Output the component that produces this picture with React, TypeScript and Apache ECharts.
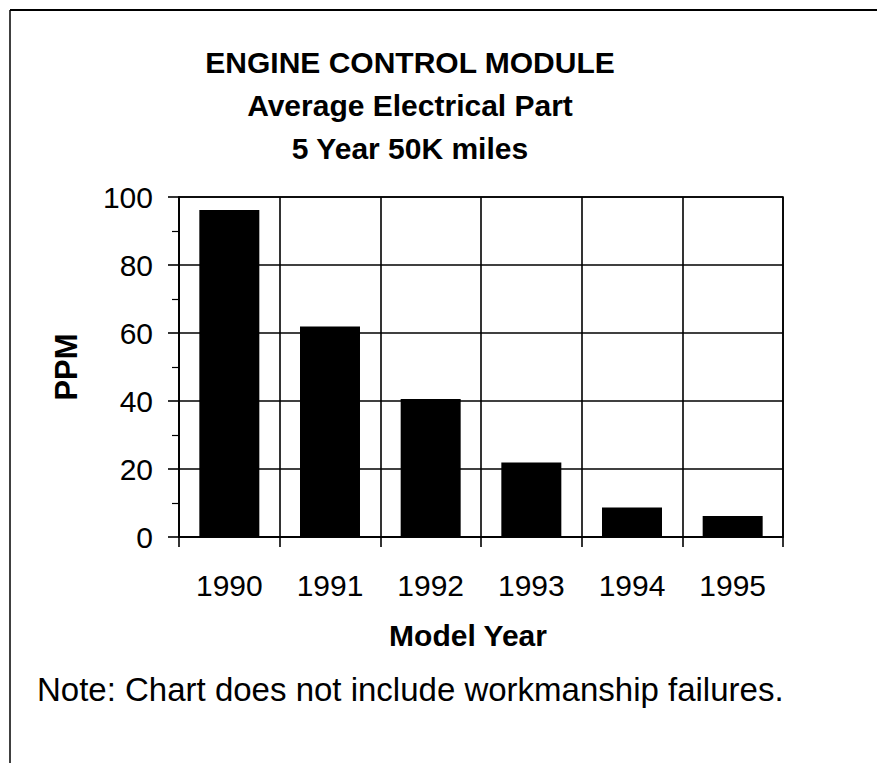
import React, { useEffect, useRef } from "react";
import * as echarts from "echarts";

const categories = ["1990", "1991", "1992", "1993", "1994", "1995"];
const ppmValues = [96.2, 61.9, 40.6, 21.9, 8.7, 6.2];
const titleLines = ["ENGINE CONTROL MODULE", "Average Electrical Part", "5 Year 50K miles"];
const yAxisName = "PPM";
const xAxisName = "Model Year";
const noteText = "Note: Chart does not include workmanship failures.";

const FONT = "'Liberation Sans', Arial, Helvetica, sans-serif";

export default function App() {
  const ref = useRef<HTMLDivElement>(null);

  useEffect(() => {
    document.body.style.margin = "0";
    const chart = echarts.init(ref.current!, undefined, { renderer: "svg" });
    chart.setOption({
      animation: false,
      backgroundColor: "#ffffff",
      grid: {
        left: 179,
        top: 197,
        width: 604,
        height: 340,
        show: true,
        borderColor: "#000",
        borderWidth: 1.6,
        containLabel: false,
      },
      xAxis: {
        type: "category",
        data: categories,
        boundaryGap: true,
        axisLine: { show: true, lineStyle: { color: "#000", width: 1.6 } },
        axisTick: { show: true, inside: false, length: 10, lineStyle: { color: "#000", width: 1.6 } },
        axisLabel: { fontFamily: FONT, fontSize: 30, color: "#000", margin: 33 },
        splitLine: { show: true, lineStyle: { color: "#000", width: 1.6 } },
      },
      yAxis: {
        type: "value",
        min: 0,
        max: 100,
        interval: 20,
        name: yAxisName,
        nameLocation: "middle",
        nameRotate: 90,
        nameGap: 97,
        nameTextStyle: { fontFamily: FONT, fontSize: 31, fontWeight: "bold", color: "#000" },
        axisLine: { show: true, lineStyle: { color: "#000", width: 1.6 } },
        axisTick: { show: true, inside: false, length: 11, lineStyle: { color: "#000", width: 1.6 } },
        minorTick: { show: true, splitNumber: 2, length: 7, lineStyle: { color: "#000", width: 1.2 } },
        axisLabel: { fontFamily: FONT, fontSize: 30, color: "#000", margin: 26 },
        splitLine: { show: true, lineStyle: { color: "#000", width: 1.6 } },
      },
      series: [
        {
          type: "bar",
          data: ppmValues,
          barWidth: "59.6%",
          itemStyle: { color: "#000" },
        },
      ],
      graphic: [
        {
          type: "line",
          shape: { x1: 10, y1: 10, x2: 877, y2: 10 },
          style: { stroke: "#000", lineWidth: 2 },
        },
        {
          type: "line",
          shape: { x1: 10, y1: 10, x2: 10, y2: 763 },
          style: { stroke: "#000", lineWidth: 1.5 },
        },
        ...titleLines.map((t, i) => ({
          type: "text",
          x: 410,
          y: 62 + i * 43,
          style: {
            text: t,
            fontFamily: FONT,
            fontSize: 30,
            fontWeight: "bold",
            fill: "#000",
            align: "center",
            verticalAlign: "middle",
          },
        })),
        {
          type: "text",
          x: 468,
          y: 635,
          style: {
            text: xAxisName,
            fontFamily: FONT,
            fontSize: 30,
            fontWeight: "bold",
            fill: "#000",
            align: "center",
            verticalAlign: "middle",
          },
        },
        {
          type: "text",
          x: 37,
          y: 689,
          style: {
            text: noteText,
            fontFamily: FONT,
            fontSize: 33,
            fill: "#000",
            align: "left",
            verticalAlign: "middle",
          },
        },
      ],
    });
    return () => chart.dispose();
  }, []);

  return <div ref={ref} style={{ width: 877, height: 763 }} />;
}
